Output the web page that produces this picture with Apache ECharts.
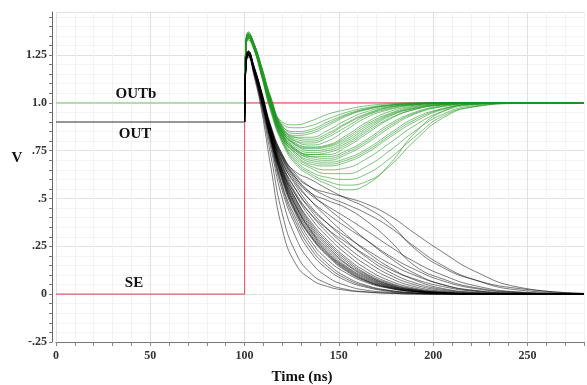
<!DOCTYPE html>
<html>
<head>
<meta charset="utf-8">
<script src="https://cdn.jsdelivr.net/npm/echarts@6/dist/echarts.min.js"></script>
<style>html,body{margin:0;padding:0;background:#fff}#c{width:587px;height:385px}</style>
</head>
<body>
<div id="c"></div>
<script>
// Time samples (ns) for the transient part of every OUT / OUTb trace
const T = [100, 100.7, 102, 105, 109, 114, 120, 127, 135, 144, 154, 165, 177, 190, 205, 222, 245, 280];

// Flat (pre-switch) levels
const seTimes = [0, 100, 100, 280];
const seValues = [0, 0, 1.0, 1.0];
const outFlatTimes = [0, 100];
const outFlatValues = [0.9, 0.9];
const outbFlatTimes = [0, 100];
const outbFlatValues = [1.0, 1.0];

// OUTb traces (green), values at T
const outbTraces = [
  [1.00,1.30,1.36,1.31,1.19,1.03,0.90,0.885,0.905,0.94,0.965,0.985,0.995,1.0,1.0,1.0,1.0,1.0],
  [1.00,1.29,1.35,1.30,1.18,1.02,0.89,0.87,0.88,0.915,0.95,0.975,0.99,0.998,1.0,1.0,1.0,1.0],
  [1.00,1.31,1.37,1.31,1.19,1.02,0.88,0.85,0.86,0.90,0.94,0.97,0.988,0.997,1.0,1.0,1.0,1.0],
  [1.00,1.28,1.34,1.29,1.17,1.01,0.87,0.83,0.84,0.88,0.93,0.965,0.985,0.995,1.0,1.0,1.0,1.0],
  [1.00,1.30,1.36,1.30,1.18,1.01,0.87,0.82,0.82,0.855,0.91,0.955,0.98,0.993,1.0,1.0,1.0,1.0],
  [1.00,1.29,1.35,1.30,1.17,1.00,0.86,0.81,0.80,0.83,0.89,0.94,0.975,0.99,0.998,1.0,1.0,1.0],
  [1.00,1.31,1.36,1.31,1.18,1.01,0.86,0.80,0.78,0.80,0.86,0.925,0.965,0.988,0.998,1.0,1.0,1.0],
  [1.00,1.28,1.34,1.29,1.16,0.99,0.85,0.79,0.77,0.78,0.83,0.90,0.955,0.983,0.996,1.0,1.0,1.0],
  [1.00,1.30,1.35,1.30,1.17,1.00,0.85,0.78,0.76,0.77,0.81,0.88,0.94,0.975,0.993,1.0,1.0,1.0],
  [1.00,1.29,1.34,1.29,1.16,0.99,0.84,0.77,0.74,0.75,0.79,0.86,0.93,0.97,0.99,0.998,1.0,1.0],
  [1.00,1.31,1.36,1.30,1.17,1.00,0.84,0.76,0.73,0.73,0.77,0.84,0.915,0.965,0.99,0.998,1.0,1.0],
  [1.00,1.28,1.33,1.28,1.15,0.98,0.83,0.75,0.72,0.72,0.75,0.81,0.89,0.95,0.985,0.997,1.0,1.0],
  [1.00,1.30,1.35,1.29,1.16,0.99,0.83,0.75,0.71,0.70,0.73,0.79,0.87,0.94,0.98,0.996,1.0,1.0],
  [1.00,1.29,1.34,1.29,1.16,0.98,0.82,0.74,0.70,0.69,0.71,0.76,0.84,0.92,0.97,0.995,1.0,1.0],
  [1.00,1.31,1.36,1.30,1.16,0.98,0.82,0.73,0.68,0.67,0.69,0.74,0.82,0.90,0.965,0.993,1.0,1.0],
  [1.00,1.28,1.33,1.28,1.15,0.97,0.81,0.72,0.67,0.65,0.66,0.71,0.79,0.88,0.955,0.99,1.0,1.0],
  [1.00,1.30,1.35,1.29,1.15,0.97,0.81,0.71,0.66,0.63,0.63,0.67,0.75,0.85,0.94,0.985,0.998,1.0],
  [1.00,1.29,1.34,1.28,1.14,0.96,0.80,0.70,0.64,0.61,0.60,0.63,0.71,0.82,0.93,0.98,0.997,1.0],
  [1.00,1.31,1.35,1.29,1.15,0.96,0.80,0.69,0.63,0.59,0.57,0.59,0.67,0.80,0.92,0.98,0.997,1.0],
  [1.00,1.30,1.34,1.28,1.14,0.95,0.79,0.68,0.62,0.575,0.545,0.575,0.68,0.84,0.955,0.993,1.0,1.0],
  [1.00,1.30,1.36,1.31,1.18,1.02,0.88,0.84,0.85,0.89,0.935,0.968,0.987,0.996,1.0,1.0,1.0,1.0],
  [1.00,1.29,1.35,1.30,1.17,1.00,0.86,0.80,0.79,0.82,0.875,0.935,0.97,0.99,0.998,1.0,1.0,1.0],
  [1.00,1.31,1.36,1.30,1.17,1.00,0.85,0.785,0.765,0.775,0.82,0.89,0.945,0.98,0.995,1.0,1.0,1.0],
  [1.00,1.28,1.34,1.29,1.16,0.99,0.84,0.76,0.73,0.74,0.78,0.85,0.92,0.965,0.99,0.998,1.0,1.0],
  [1.00,1.30,1.35,1.29,1.16,0.99,0.83,0.755,0.72,0.71,0.74,0.80,0.88,0.945,0.982,0.997,1.0,1.0],
  [1.00,1.29,1.34,1.29,1.15,0.98,0.82,0.74,0.69,0.68,0.70,0.75,0.83,0.91,0.968,0.994,1.0,1.0],
  [1.00,1.31,1.37,1.31,1.19,1.02,0.87,0.82,0.81,0.84,0.895,0.945,0.978,0.993,1.0,1.0,1.0,1.0],
  [1.00,1.30,1.35,1.30,1.17,1.00,0.85,0.78,0.75,0.76,0.80,0.87,0.935,0.972,0.992,0.999,1.0,1.0]
];

// OUT traces (black), values at T
const outTraces = [
  [0.90,1.19,1.24,1.14,0.96,0.66,0.34,0.16,0.08,0.04,0.02,0.01,0.005,0,0,0,0,0],
  [0.90,1.20,1.25,1.15,0.98,0.72,0.42,0.22,0.11,0.055,0.025,0.012,0.005,0.002,0,0,0,0],
  [0.90,1.21,1.26,1.16,0.99,0.76,0.50,0.30,0.17,0.09,0.045,0.02,0.01,0.004,0,0,0,0],
  [0.90,1.20,1.25,1.16,1.00,0.78,0.54,0.36,0.22,0.13,0.07,0.035,0.015,0.005,0.002,0,0,0],
  [0.90,1.21,1.26,1.17,1.01,0.80,0.57,0.40,0.26,0.16,0.09,0.045,0.02,0.008,0.003,0,0,0],
  [0.90,1.19,1.24,1.16,1.01,0.80,0.59,0.42,0.28,0.18,0.11,0.06,0.03,0.012,0.004,0,0,0],
  [0.90,1.21,1.25,1.17,1.02,0.81,0.60,0.43,0.30,0.20,0.12,0.065,0.032,0.014,0.005,0.001,0,0],
  [0.90,1.20,1.25,1.17,1.02,0.81,0.61,0.44,0.31,0.21,0.13,0.07,0.035,0.015,0.005,0.001,0,0],
  [0.90,1.21,1.26,1.18,1.03,0.82,0.62,0.46,0.33,0.22,0.14,0.08,0.04,0.018,0.006,0.002,0,0],
  [0.90,1.20,1.25,1.17,1.03,0.82,0.63,0.47,0.34,0.24,0.155,0.09,0.045,0.02,0.007,0.002,0,0],
  [0.90,1.22,1.27,1.18,1.03,0.83,0.64,0.49,0.36,0.26,0.17,0.10,0.05,0.022,0.008,0.002,0,0],
  [0.90,1.20,1.25,1.17,1.03,0.83,0.65,0.50,0.38,0.28,0.19,0.115,0.06,0.027,0.01,0.003,0,0],
  [0.90,1.21,1.26,1.18,1.04,0.84,0.66,0.52,0.40,0.30,0.21,0.13,0.07,0.032,0.012,0.003,0,0],
  [0.90,1.20,1.25,1.17,1.04,0.84,0.67,0.53,0.42,0.32,0.23,0.15,0.085,0.04,0.015,0.004,0,0],
  [0.90,1.21,1.26,1.18,1.04,0.85,0.68,0.55,0.44,0.34,0.25,0.17,0.10,0.05,0.02,0.006,0.001,0],
  [0.90,1.20,1.25,1.18,1.05,0.85,0.69,0.57,0.46,0.37,0.28,0.19,0.115,0.06,0.025,0.008,0.002,0],
  [0.90,1.22,1.27,1.19,1.05,0.86,0.70,0.59,0.49,0.40,0.31,0.22,0.14,0.075,0.03,0.01,0.002,0],
  [0.90,1.21,1.26,1.18,1.05,0.86,0.71,0.61,0.53,0.45,0.37,0.28,0.19,0.11,0.05,0.018,0.005,0],
  [0.90,1.20,1.25,1.18,1.05,0.87,0.72,0.61,0.53,0.49,0.45,0.38,0.28,0.15,0.08,0.035,0.01,0.001],
  [0.90,1.21,1.26,1.19,1.06,0.87,0.72,0.64,0.60,0.55,0.50,0.45,0.37,0.24,0.14,0.075,0.03,0.004],
  [0.90,1.20,1.25,1.18,1.05,0.87,0.73,0.63,0.56,0.51,0.47,0.42,0.35,0.25,0.15,0.075,0.022,0.003],
  [0.90,1.22,1.27,1.19,1.06,0.88,0.73,0.62,0.56,0.53,0.505,0.47,0.41,0.32,0.22,0.12,0.037,0.004],
  [0.90,1.21,1.26,1.18,1.04,0.84,0.67,0.55,0.45,0.37,0.30,0.23,0.16,0.10,0.05,0.02,0.005,0],
  [0.90,1.20,1.25,1.18,1.05,0.85,0.69,0.58,0.49,0.42,0.35,0.28,0.20,0.13,0.07,0.03,0.008,0],
  [0.90,1.21,1.26,1.17,1.03,0.83,0.65,0.52,0.42,0.34,0.27,0.20,0.13,0.08,0.04,0.015,0.003,0],
  [0.90,1.22,1.27,1.19,1.05,0.86,0.71,0.60,0.52,0.46,0.40,0.33,0.25,0.17,0.10,0.045,0.012,0.001],
  [0.90,1.20,1.25,1.17,1.02,0.82,0.615,0.45,0.32,0.215,0.135,0.075,0.037,0.016,0.005,0.001,0,0],
  [0.90,1.21,1.26,1.18,1.03,0.825,0.625,0.465,0.335,0.23,0.145,0.085,0.042,0.019,0.006,0.002,0,0],
  [0.90,1.20,1.25,1.17,1.02,0.815,0.605,0.435,0.305,0.205,0.125,0.068,0.033,0.014,0.005,0.001,0,0],
  [0.90,1.21,1.26,1.18,1.03,0.83,0.635,0.48,0.35,0.25,0.16,0.095,0.048,0.021,0.007,0.002,0,0],
  [0.90,1.20,1.25,1.17,1.01,0.79,0.56,0.38,0.24,0.145,0.08,0.04,0.018,0.007,0.002,0,0,0],
  [0.90,1.22,1.27,1.18,1.04,0.835,0.645,0.50,0.37,0.27,0.18,0.105,0.055,0.025,0.009,0.002,0,0]
];

// Tick labels
const yTickLabels = {'-25': '-.25', '0': '0', '25': '.25', '50': '.5', '75': '.75', '100': '1.0', '125': '1.25'};
const xTickLabels = {'0': '0', '50': '50', '100': '100', '150': '150', '200': '200', '250': '250'};

const zip = (xs, ys) => xs.map((x, i) => [x, ys[i]]);
const LABEL_FONT = '"Liberation Serif", "DejaVu Serif", serif';

const series = [];
series.push({type: 'line', data: zip(seTimes, seValues), symbol: 'none', silent: true,
  lineStyle: {color: '#e2606f', width: 1.2}, z: 2});
series.push({type: 'line', data: zip(outbFlatTimes, outbFlatValues), symbol: 'none', silent: true,
  lineStyle: {color: '#8fd08f', width: 1.4}, z: 3});
outbTraces.forEach(v => series.push({type: 'line', data: zip(T, v), symbol: 'none', silent: true,
  smooth: 0.5, lineStyle: {color: '#1f961f', width: 0.8, opacity: 0.72}, z: 3}));
series.push({type: 'line', data: zip(outFlatTimes, outFlatValues), symbol: 'none', silent: true,
  lineStyle: {color: '#333', width: 1}, z: 4});
outTraces.forEach(v => series.push({type: 'line', data: zip(T, v), symbol: 'none', silent: true,
  smooth: 0.5, lineStyle: {color: '#000', width: 0.8, opacity: 0.65}, z: 4}));

const chart = echarts.init(document.getElementById('c'), null, {renderer: 'canvas'});
chart.setOption({
  backgroundColor: '#fff',
  animation: false,
  grid: {left: 56, right: -2, top: 12, bottom: 43, containLabel: false},
  xAxis: {
    type: 'value', min: 0, max: 280, interval: 10,
    axisLine: {show: true, onZero: false, lineStyle: {color: '#777', width: 1}},
    axisTick: {show: true, length: 4, lineStyle: {color: '#888'}},
    axisLabel: {margin: 8, color: '#333', fontFamily: LABEL_FONT, fontWeight: 'bold', fontSize: 12,
      formatter: v => xTickLabels[String(Math.round(v))] || ''},
    splitLine: {show: true, lineStyle: {color: ['#e0e0e0', '#f3f3f3', '#f3f3f3', '#f3f3f3', '#f3f3f3'], width: 1}}
  },
  yAxis: {
    type: 'value', min: -0.25, max: 1.475, interval: 0.05, offset: 4,
    axisLine: {show: true, onZero: false, lineStyle: {color: '#666', width: 1}},
    axisTick: {show: true, length: 3, lineStyle: {color: '#777'}},
    axisLabel: {margin: 5, color: '#333', fontFamily: LABEL_FONT, fontWeight: 'bold', fontSize: 12,
      showMaxLabel: false,
      formatter: v => yTickLabels[String(Math.round(v * 100))] || ''},
    splitLine: {show: true, lineStyle: {color: ['#e0e0e0', '#f3f3f3', '#f3f3f3', '#f3f3f3', '#f3f3f3'], width: 1}}
  },
  graphic: [
    {type: 'text', x: 136, y: 94, z: 100, style: {text: 'OUTb', font: 'bold 15px ' + LABEL_FONT, fill: '#111', align: 'center', verticalAlign: 'middle'}},
    {type: 'text', x: 135, y: 134, z: 100, style: {text: 'OUT', font: 'bold 15px ' + LABEL_FONT, fill: '#111', align: 'center', verticalAlign: 'middle'}},
    {type: 'text', x: 134, y: 283, z: 100, style: {text: 'SE', font: 'bold 15px ' + LABEL_FONT, fill: '#111', align: 'center', verticalAlign: 'middle'}},
    {type: 'text', x: 17, y: 158, z: 100, style: {text: 'V', font: 'bold 15px ' + LABEL_FONT, fill: '#111', align: 'center', verticalAlign: 'middle'}},
    {type: 'text', x: 302, y: 377, z: 100, style: {text: 'Time (ns)', font: 'bold 15px ' + LABEL_FONT, fill: '#111', align: 'center', verticalAlign: 'middle'}}
  ],
  series: series
});
</script>
</body>
</html>
